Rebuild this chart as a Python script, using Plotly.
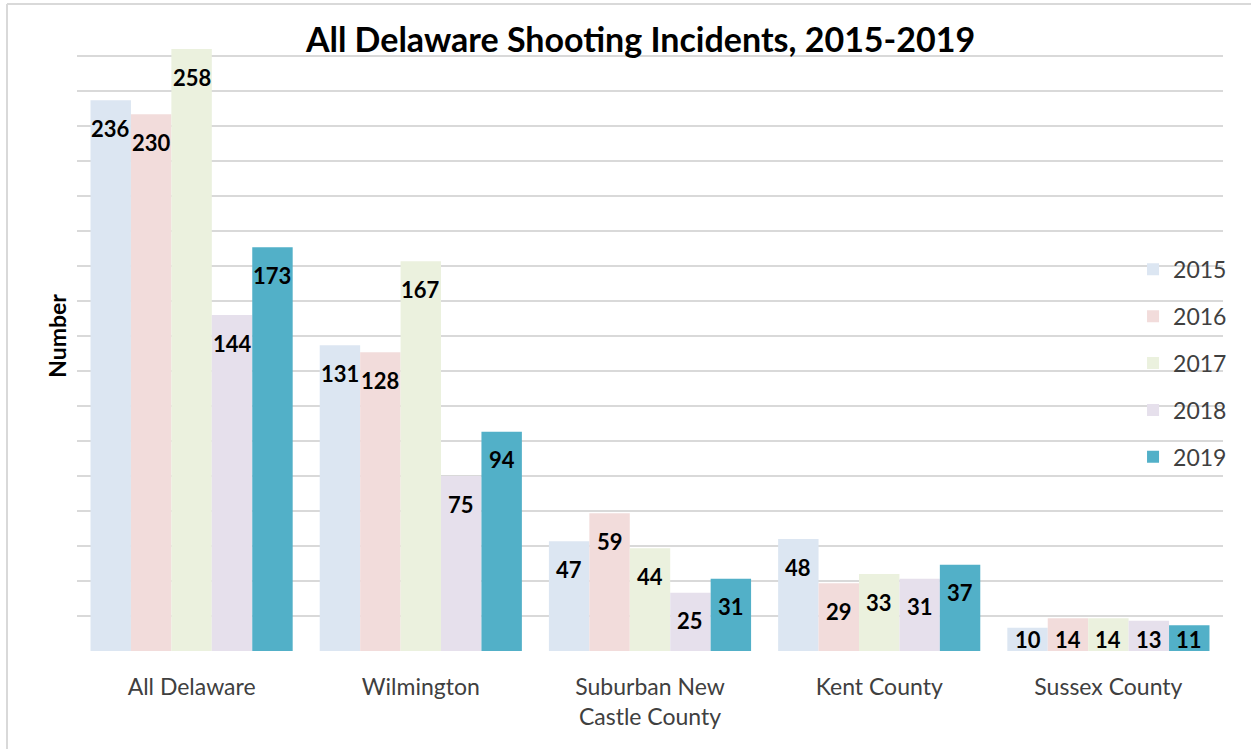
import plotly.graph_objects as go

# Shooting incidents by area and year
areas = ["All Delaware", "Wilmington", "Suburban New<br>Castle County", "Kent County", "Sussex County"]
years = ["2015", "2016", "2017", "2018", "2019"]
counts_2015 = [236, 131, 47, 48, 10]
counts_2016 = [230, 128, 59, 29, 14]
counts_2017 = [258, 167, 44, 33, 14]
counts_2018 = [144, 75, 25, 31, 13]
counts_2019 = [173, 94, 31, 37, 11]
series = [counts_2015, counts_2016, counts_2017, counts_2018, counts_2019]
colors = ["#dce6f2", "#f2dcdb", "#ebf1de", "#e6e0ec", "#52b0c8"]
grid_ticks = list(range(0, 256, 15))

FONT = "Lato"
W, H = 1251, 749
ML, MR, MT, MB = 77, 28, 21, 98
BARGAP = 0.118
Y_MAX = 270

fig = go.Figure()
for yr, vals, col in zip(years, series, colors):
    fig.add_trace(go.Bar(
        name=yr,
        x=areas,
        y=vals,
        marker=dict(color=col, line=dict(width=0)),
        legendgroup=yr,
    ))

# value labels sit just inside the top of each bar
n = len(series)
bar_w = (1 - BARGAP) / n
label_drop = 12   # data units below the bar top
label_floor = 5   # keeps labels of short bars inside the plot
for i, vals in enumerate(series):
    for j, v in enumerate(vals):
        fig.add_annotation(
            x=j - (1 - BARGAP) / 2 + bar_w * (i + 0.5), xref="x",
            y=max(v - label_drop, label_floor), yref="y",
            text=str(v), showarrow=False, xanchor="center", yanchor="middle",
            font=dict(family=FONT, size=22, color="#000000", weight="bold"),
        )

# light frame along the left and top edges
fx0 = (7 - ML) / (W - ML - MR)
fy1 = (H - MB - 4) / (H - MT - MB)
fig.add_shape(type="line", xref="paper", yref="paper", x0=fx0, x1=fx0, y0=-1, y1=fy1,
              line=dict(color="#d9d9d9", width=2))
fig.add_shape(type="line", xref="paper", yref="paper", x0=fx0, x1=1.2, y0=fy1, y1=fy1,
              line=dict(color="#d9d9d9", width=2))

fig.update_layout(
    width=W, height=H,
    margin=dict(l=ML, r=MR, t=MT, b=MB),
    paper_bgcolor="white", plot_bgcolor="white",
    barmode="group",
    bargap=BARGAP, bargroupgap=0,
    title=dict(text="<b>All Delaware Shooting Incidents, 2015-2019</b>",
               font=dict(family=FONT, size=34, color="#000000"),
               x=0.512, xanchor="center", y=0.947, yanchor="middle"),
    font=dict(family=FONT, color="#404040"),
    legend=dict(x=0.9215, xanchor="left", y=0.64, yanchor="top",
                bgcolor="rgba(0,0,0,0)", font=dict(family=FONT, size=23, color="#404040"),
                traceorder="grouped", tracegroupgap=14),
    xaxis=dict(showgrid=False, showline=False, ticks="",
               tickfont=dict(family=FONT, size=23, color="#404040"),
               ticklabelstandoff=20),
    yaxis=dict(range=[0, Y_MAX], tickvals=grid_ticks, showticklabels=False,
               showgrid=True, gridcolor="#d9d9d9", gridwidth=2,
               zeroline=False, showline=False,
               title=dict(text="<b>Number</b>", font=dict(family=FONT, size=23, color="#000000"),
                          standoff=2)),
)

fig.write_html("out.html")
